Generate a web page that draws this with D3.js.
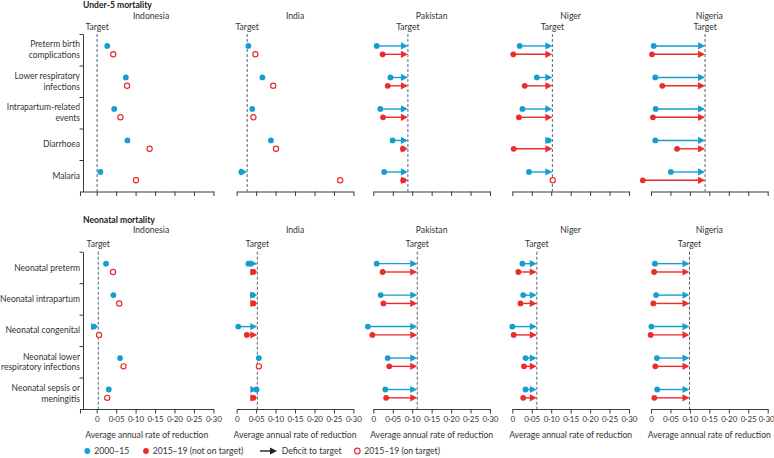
<!DOCTYPE html>
<html>
<head>
<meta charset="utf-8">
<script src="https://cdn.jsdelivr.net/npm/d3@7"></script>
<style>
  html, body { margin: 0; padding: 0; background: #fff; }
  svg { display: block; }
  text { font-family: Lato, "Liberation Sans", sans-serif; fill: #333; }
</style>
</head>
<body>
<svg id="chart" width="774" height="458"></svg>
<script>
// ---------------- data ----------------
const countries = ["Indonesia", "India", "Pakistan", "Niger", "Nigeria"];

const u5Causes = ["Preterm birth|complications", "Lower respiratory|infections", "Intrapartum-related|events", "Diarrhoea", "Malaria"];
const u5Target = [0.001, 0.027, 0.089, 0.103, 0.139];
// rows: countries, columns: causes
const u5Rate2000 = [
  [0.027, 0.075, 0.045, 0.079, 0.0095],
  [0.030, 0.066, 0.040, 0.088, 0.012],
  [0.0087, 0.044, 0.018, 0.0495, 0.028],
  [0.019, 0.063, 0.026, 0.093, 0.043],
  [0.007, 0.011, 0.012, 0.011, 0.051]
];
const u5Rate2015 = [
  [0.0425, 0.078, 0.061, 0.136, 0.101],
  [0.048, 0.094, 0.043, 0.101, 0.266],
  [0.024, 0.037, 0.025, 0.076, 0.077],
  [0.0026, 0.032, 0.017, 0.0036, 0.104],
  [0.0026, 0.029, 0.005, 0.067, -0.021]
];

const neoCauses = ["Neonatal preterm", "Neonatal intrapartum", "Neonatal congenital", "Neonatal lower|respiratory infections", "Neonatal sepsis or|meningitis"];
const neoTarget = [0.004, 0.053, 0.113, 0.063, 0.099];
const neoRate2000 = [
  [0.024, 0.043, -0.007, 0.060, 0.031],
  [0.030, 0.041, 0.004, 0.057, 0.051],
  [0.0087, 0.019, -0.014, 0.037, 0.031],
  [0.026, 0.028, 0.000, 0.034, 0.034],
  [0.010, 0.013, 0.001, 0.015, 0.016]
];
const neoRate2015 = [
  [0.042, 0.058, 0.006, 0.069, 0.027],
  [0.043, 0.043, 0.026, 0.057, 0.043],
  [0.024, 0.026, -0.0025, 0.041, 0.033],
  [0.0155, 0.021, 0.0036, 0.030, 0.028],
  [0.008, 0.006, -0.001, 0.011, 0.0085]
];

const xTicks = [0, 0.05, 0.10, 0.15, 0.20, 0.25, 0.30];
const groupTitles = ["Under-5 mortality", "Neonatal mortality"];
const legendLabels = ["2000\u201315", "2015\u201319 (not on target)", "Deficit to target", "2015\u201319 (on target)"];

// ---------------- layout ----------------
const BLUE = "#159ecf", RED = "#ec2b2b", AX = "#3a3a3a", TGT = "#4d6878";
const panelLeft = [96.7, 236.7, 373.3, 512.3, 651];
const panelW = 116.7;
const fmt = v => v === 0 ? "0" : d3.format(".2f")(v).replace(".", "\u00b7");

const svg = d3.select("#chart");

const groups = [
  { title: groupTitles[0], causes: u5Causes, target: u5Target, r2000: u5Rate2000, r2015: u5Rate2015, top: 34, bottom: 191.5, titleY: 8, labels: false },
  { title: groupTitles[1], causes: neoCauses, target: neoTarget, r2000: neoRate2000, r2015: neoRate2015, top: 251.7, bottom: 409, titleY: 222.5, labels: true }
];

groups.forEach(g => {
  const G = svg.append("g");
  G.append("text").attr("x", 83).attr("y", g.titleY)
    .attr("font-size", 8.6).attr("font-weight", "bold").style("fill", "#1a1a1a").text(g.title);

  const y = d3.scaleBand().domain(g.causes).range([g.top, g.bottom]).paddingInner(0).paddingOuter(0);
  const bw = y.bandwidth();

  countries.forEach((c, i) => {
    const x = d3.scaleLinear().domain([0, 0.3]).range([panelLeft[i], panelLeft[i] + panelW]);
    const lo = i === 0 ? -0.043 : 0;
    const xa = d3.scaleLinear().domain([lo, 0.3]).range([x(lo), x(0.3)]);
    const P = G.append("g");

    // country name
    const cx = i === 0 ? (x(0) + x(0.3)) / 2 - 4 : (x(0) + x(0.3)) / 2;
    P.append("text").attr("x", cx).attr("y", g.titleY + 10.8).attr("text-anchor", "middle")
      .attr("font-size", 8.6).text(c);

    // x axis
    const tv = i === 0 ? [lo].concat(xTicks) : xTicks;
    const axis = d3.axisBottom(xa).tickValues(tv).tickSize(4.5).tickSizeOuter(0)
      .tickFormat(d => (g.labels && d >= 0) ? fmt(d) : "");
    const ax = P.append("g").attr("transform", `translate(0,${g.bottom})`).call(axis);
    ax.select(".domain").attr("stroke", AX).attr("stroke-width", 1);
    ax.selectAll(".tick line").attr("stroke", AX).attr("stroke-width", 1);
    ax.selectAll(".tick text").attr("font-size", 8.0).attr("font-family", "Lato, sans-serif")
      .style("fill", "#333").attr("dy", "0.71em").attr("y", 7);
    if (i === countries.length - 1) {
      ax.selectAll(".tick text").filter(d => d === 0.30).attr("dx", -1.5);
    }
    if (g.labels) {
      P.append("text").attr("x", (xa.range()[0] + xa.range()[1]) / 2).attr("y", g.bottom + 28.5)
        .attr("text-anchor", "middle").attr("font-size", 8.6).text("Average annual rate of reduction");
    }

    // y axis for first panel
    if (i === 0) {
      const yl = d3.scaleLinear().domain([0, g.causes.length]).range([g.top, g.bottom]);
      const yax = d3.axisLeft(yl).tickValues(d3.range(g.causes.length)).tickSize(3.5).tickSizeOuter(0).tickFormat("");
      const ya = P.append("g").attr("transform", `translate(83,0)`).call(yax);
      ya.select(".domain").attr("stroke", AX);
      ya.selectAll(".tick line").attr("stroke", AX);
      g.causes.forEach(cs => {
        const lines = cs.split("|");
        const cy = y(cs) + bw / 2;
        lines.forEach((ln, k) => {
          const off = (k - (lines.length - 1) / 2) * 10.8;
          P.append("text").attr("x", 80).attr("y", cy + off + 3.1).attr("text-anchor", "end")
            .attr("font-size", 8.5).text(ln);
        });
      });
    }

    // target line
    const tx = x(g.target[i]);
    P.append("line").attr("x1", tx).attr("x2", tx).attr("y1", g.top).attr("y2", g.bottom)
      .attr("stroke", TGT).attr("stroke-width", 1).attr("stroke-dasharray", "3,2");
    P.append("text").attr("x", tx).attr("y", g.top - 4.3).attr("text-anchor", "middle")
      .attr("font-size", 8.6).text("Target");

    // marks
    g.causes.forEach((cs, j) => {
      const series = [
        { v: g.r2000[i][j], col: BLUE, yy: y(cs) + bw * 0.38, openIfOn: false },
        { v: g.r2015[i][j], col: RED, yy: y(cs) + bw * 0.645, openIfOn: true }
      ];
      series.forEach(s => {
        const px = x(s.v);
        const onTarget = s.v >= g.target[i];
        if (!onTarget) {
          P.append("line").attr("x1", px).attr("x2", tx - 5).attr("y1", s.yy).attr("y2", s.yy)
            .attr("stroke", s.col).attr("stroke-width", 1.4);
          P.append("path")
            .attr("d", `M${tx},${s.yy} L${tx - 7},${s.yy - 3.6} L${tx - 7},${s.yy + 3.6} Z`)
            .attr("fill", s.col);
          P.append("circle").attr("cx", px).attr("cy", s.yy).attr("r", 2.9).attr("fill", s.col);
        } else if (s.openIfOn) {
          P.append("circle").attr("cx", px).attr("cy", s.yy).attr("r", 2.6)
            .attr("fill", "#fff").attr("stroke", s.col).attr("stroke-width", 1.2);
        } else {
          P.append("circle").attr("cx", px).attr("cy", s.yy).attr("r", 2.9).attr("fill", s.col);
        }
      });
    });
  });
});

// ---------------- legend ----------------
const L = svg.append("g");
const ly = 451;
L.append("circle").attr("cx", 87.3).attr("cy", ly).attr("r", 2.9).attr("fill", BLUE);
L.append("text").attr("x", 94.3).attr("y", ly + 3.1).attr("font-size", 8.6).text(legendLabels[0]);
L.append("circle").attr("cx", 146).attr("cy", ly).attr("r", 2.9).attr("fill", RED);
L.append("text").attr("x", 152.7).attr("y", ly + 3.1).attr("font-size", 8.6).text(legendLabels[1]);
L.append("line").attr("x1", 260).attr("x2", 271).attr("y1", ly).attr("y2", ly).attr("stroke", "#222").attr("stroke-width", 1.4);
L.append("path").attr("d", `M277,${ly} L270,${ly - 3.6} L270,${ly + 3.6} Z`).attr("fill", "#222");
L.append("text").attr("x", 281.7).attr("y", ly + 3.1).attr("font-size", 8.6).text(legendLabels[2]);
L.append("circle").attr("cx", 357.3).attr("cy", ly).attr("r", 2.8).attr("fill", "#fff").attr("stroke", RED).attr("stroke-width", 1.2);
L.append("text").attr("x", 364.3).attr("y", ly + 3.1).attr("font-size", 8.6).text(legendLabels[3]);
</script>
</body>
</html>
